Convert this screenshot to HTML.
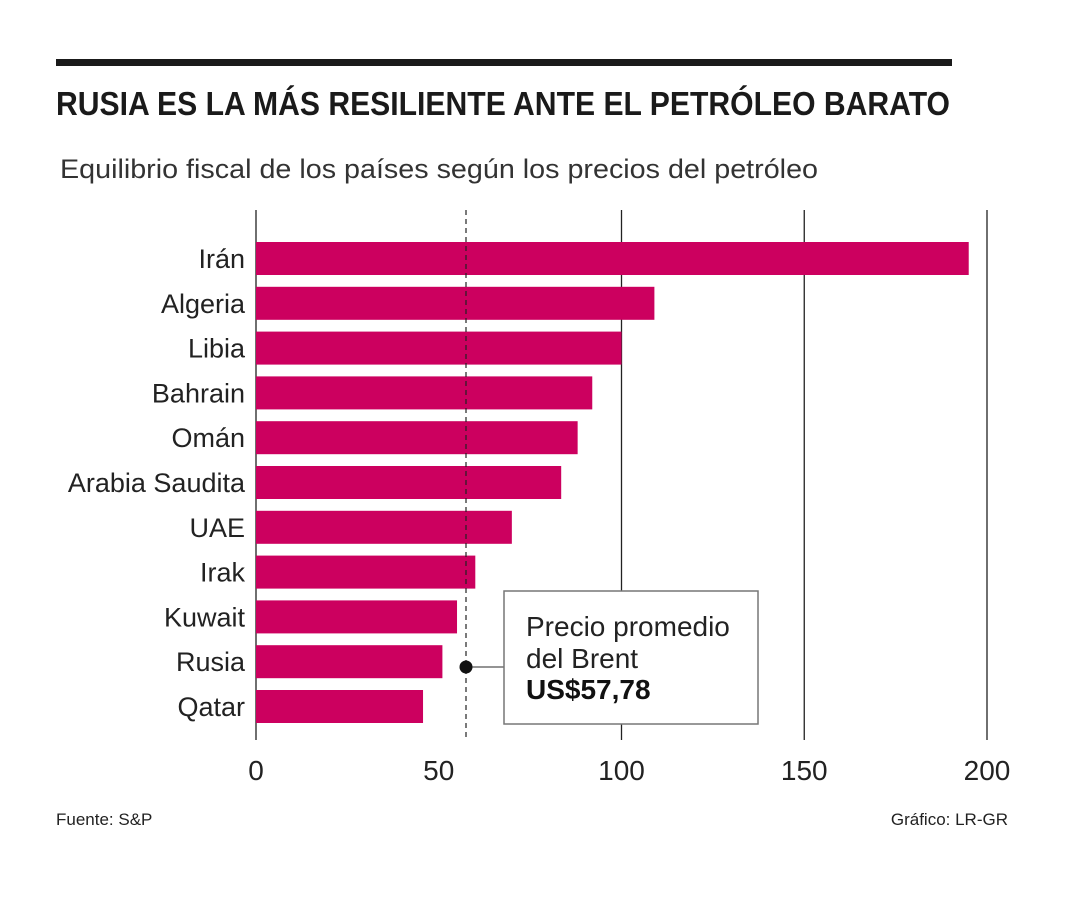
<!DOCTYPE html>
<html><head><meta charset="utf-8"><style>
body{margin:0;background:#fff;}
svg{display:block;font-family:"Liberation Sans",sans-serif;}
</style></head><body>
<svg id="chart" width="1080" height="900">
<rect x="56" y="59" width="896" height="7" fill="#1a1a1a"/>
<text x="56" y="115" font-size="33" font-weight="bold" fill="#1a1a1a" textLength="894" lengthAdjust="spacingAndGlyphs">RUSIA ES LA MÁS RESILIENTE ANTE EL PETRÓLEO BARATO</text>
<text x="60" y="178" font-size="27" fill="#333" textLength="758" lengthAdjust="spacingAndGlyphs">Equilibrio fiscal de los países según los precios del petróleo</text>
<g id="grid"></g><g id="bars"></g><g id="labels"></g><g id="ticks"></g>
<line x1="466" y1="210" x2="466" y2="740" stroke="#222" stroke-width="1.2" stroke-dasharray="5,4"/>
<line x1="466" y1="667" x2="504" y2="667" stroke="#555" stroke-width="1.2"/>
<circle cx="466" cy="667" r="6.5" fill="#111"/>
<rect x="504" y="591" width="254" height="133" fill="#fff" stroke="#777" stroke-width="1.5"/>
<text x="526" y="636" font-size="28" fill="#222">Precio promedio</text>
<text x="526" y="668" font-size="28" fill="#222">del Brent</text>
<text x="526" y="699" font-size="28" font-weight="bold" fill="#111">US$57,78</text>
<text x="56" y="825" font-size="17" fill="#222">Fuente: S&amp;P</text>
<text x="1008" y="825" font-size="17" fill="#222" text-anchor="end">Gráfico: LR-GR</text>
</svg>
<script>
const categories=["Irán","Algeria","Libia","Bahrain","Omán","Arabia Saudita","UAE","Irak","Kuwait","Rusia","Qatar"];
const values=[195,109,100,92,88,83.5,70,60,55,51,45.7];
const ticks=[0,50,100,150,200];
const gridValues=[0,100,150,200];
const NS="http://www.w3.org/2000/svg";
const x=v=>256+v*(987-256)/200;
const y=i=>242+i*44.8;
function mk(t,a,p){const e=document.createElementNS(NS,t);for(const k in a)e.setAttribute(k,a[k]);p.appendChild(e);return e;}
const G=document.getElementById('grid'),B=document.getElementById('bars'),L=document.getElementById('labels'),T=document.getElementById('ticks');
gridValues.forEach(v=>{const l=mk('line',{x1:x(v),x2:x(v),y1:210,y2:740,stroke:'#222','stroke-width':1.3},G);

});
categories.forEach((c,i)=>{const r=mk('rect',{x:x(0),y:y(i),width:x(values[i])-x(0),height:33,fill:'#cc005f'},B);


const t=mk('text',{x:245,y:y(i)+26,'font-size':27,'text-anchor':'end',fill:'#222'},L);t.textContent=c;

});
ticks.forEach(v=>{const t=mk('text',{x:x(v),y:780,'font-size':28,'text-anchor':'middle',fill:'#222'},T);t.textContent=v;

});
</script>
</body></html>
